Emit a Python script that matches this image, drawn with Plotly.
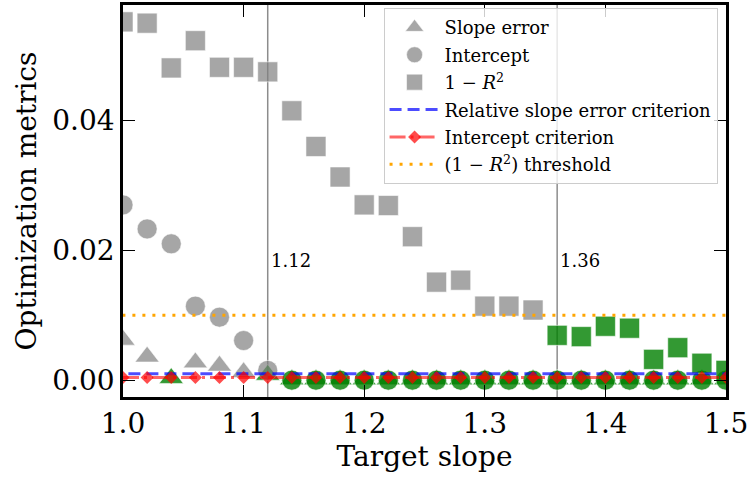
import plotly.graph_objects as go

# ---- data ----
target_slope = [1.00, 1.02, 1.04, 1.06, 1.08, 1.10, 1.12, 1.14, 1.16, 1.18,
                1.20, 1.22, 1.24, 1.26, 1.28, 1.30, 1.32, 1.34, 1.36, 1.38,
                1.40, 1.42, 1.44, 1.46, 1.48, 1.50]
slope_error = [0.0062, 0.0036, 0.0003, 0.0027, 0.0022, 0.0012, 0.0008, 0.0001, 0.0001, 0.0001,
               0.0001, 0.0001, 0.0001, 0.0001, 0.0001, 0.0001, 0.0001, 0.0001, 0.0001, 0.0001,
               0.0001, 0.0001, 0.0001, 0.0001, 0.0001, 0.0001]
intercept = [0.0270, 0.0233, 0.0210, 0.0114, 0.0097, 0.0061, 0.0015, 0.0000, 0.0000, 0.0000,
             0.0000, 0.0000, 0.0000, 0.0000, 0.0000, 0.0000, 0.0000, 0.0000, 0.0000, 0.0000,
             0.0000, 0.0000, 0.0000, 0.0000, 0.0000, 0.0000]
one_minus_r2 = [0.0552, 0.0550, 0.0481, 0.0523, 0.0482, 0.0482, 0.0475, 0.0415, 0.0360, 0.0313,
                0.0270, 0.0269, 0.0221, 0.0151, 0.0154, 0.0114, 0.0114, 0.0108, 0.0069, 0.0067,
                0.0083, 0.0080, 0.0032, 0.0050, 0.0026, 0.0015]
slope_criterion = 0.001
intercept_criterion = 0.0004
r2_threshold = 0.01
marked_slopes = [1.12, 1.36]
marked_labels = ["1.12", "1.36"]
x_ticks = [1.0, 1.1, 1.2, 1.3, 1.4, 1.5]
y_ticks = [0.00, 0.02, 0.04]

GRAY = "rgba(128,128,128,0.7)"
GREEN = "rgba(0,128,0,0.8)"
FONT = "DejaVu Serif"

def colors(vals, crit):
    return [GREEN if v < crit else GRAY for v in vals]

fig = go.Figure()
edge = dict(color="rgba(255,255,255,0.7)", width=0.8)

fig.add_trace(go.Scatter(
    x=target_slope, y=slope_error, mode="markers", name="Slope error",
    marker=dict(symbol="triangle-up", size=21, color=colors(slope_error, slope_criterion), line=edge),
    legendgroup="a"))
fig.add_trace(go.Scatter(
    x=target_slope, y=intercept, mode="markers", name="Intercept",
    marker=dict(symbol="circle", size=20, color=colors(intercept, intercept_criterion), line=edge),
    legendgroup="b"))
fig.add_trace(go.Scatter(
    x=target_slope, y=one_minus_r2, mode="markers", name="1 \u2212 <i>R</i><sup>2</sup>",
    marker=dict(symbol="square", size=20, color=colors(one_minus_r2, r2_threshold), line=edge),
    legendgroup="c"))
fig.add_trace(go.Scatter(
    x=[0.9, 1.6], y=[slope_criterion, slope_criterion], mode="lines",
    name="Relative slope error criterion",
    line=dict(color="rgba(0,0,255,0.7)", width=3, dash="12px,6px"),
    legendgroup="d"))
fig.add_trace(go.Scatter(
    x=target_slope, y=[intercept_criterion] * len(target_slope), mode="lines+markers",
    name="Intercept criterion",
    line=dict(color="rgba(255,0,0,0.6)", width=3, dash="16px,5px,3px,5px"),
    marker=dict(symbol="diamond", size=10, color="rgba(255,0,0,0.7)"),
    legendgroup="e"))
fig.add_trace(go.Scatter(
    x=[0.9, 1.6], y=[r2_threshold, r2_threshold], mode="lines",
    name="(1 \u2212 <i>R</i><sup>2</sup>) threshold",
    line=dict(color="orange", width=3, dash="3px,7px"),
    legendgroup="f"))

for xv, lab in zip(marked_slopes, marked_labels):
    fig.add_shape(type="line", xref="x", yref="paper", x0=xv, x1=xv, y0=0, y1=1,
                  line=dict(color="rgba(128,128,128,0.9)", width=1.5), layer="below")
    fig.add_annotation(x=xv, y=0.0185, xref="x", yref="y", text=lab, showarrow=False,
                       xanchor="left", yanchor="middle", xshift=1,
                       font=dict(family=FONT, size=18, color="black"))

axis_common = dict(showline=True, linecolor="black", linewidth=2.5, mirror="allticks",
                   ticks="inside", ticklen=12, tickwidth=1.3, tickcolor="black",
                   showgrid=False, zeroline=False,
                   tickfont=dict(family=FONT, size=28, color="black"))

fig.update_layout(
    width=752, height=477,
    margin=dict(l=123, r=26, t=2, b=80),
    paper_bgcolor="white", plot_bgcolor="white",
    font=dict(family=FONT, color="black"),
    xaxis=dict(range=[1.0, 1.5], tickvals=x_ticks, ticktext=[f"{v:.1f}" for v in x_ticks],
               title=dict(text="Target slope", font=dict(family=FONT, size=28), standoff=5),
               **axis_common),
    yaxis=dict(range=[-0.0026, 0.0578], tickvals=y_ticks, ticktext=[f"{v:.2f}" for v in y_ticks],
               title=dict(text="Optimization metrics", font=dict(family=FONT, size=28), standoff=8),
               **axis_common),
    legend=dict(x=0.986, y=0.992, xanchor="right", yanchor="top",
                bgcolor="rgba(255,255,255,0.8)", bordercolor="#cccccc", borderwidth=1,
                font=dict(family=FONT, size=18, color="black"),
                tracegroupgap=1, itemwidth=50),
    showlegend=True,
)

fig.write_html("out.html")
